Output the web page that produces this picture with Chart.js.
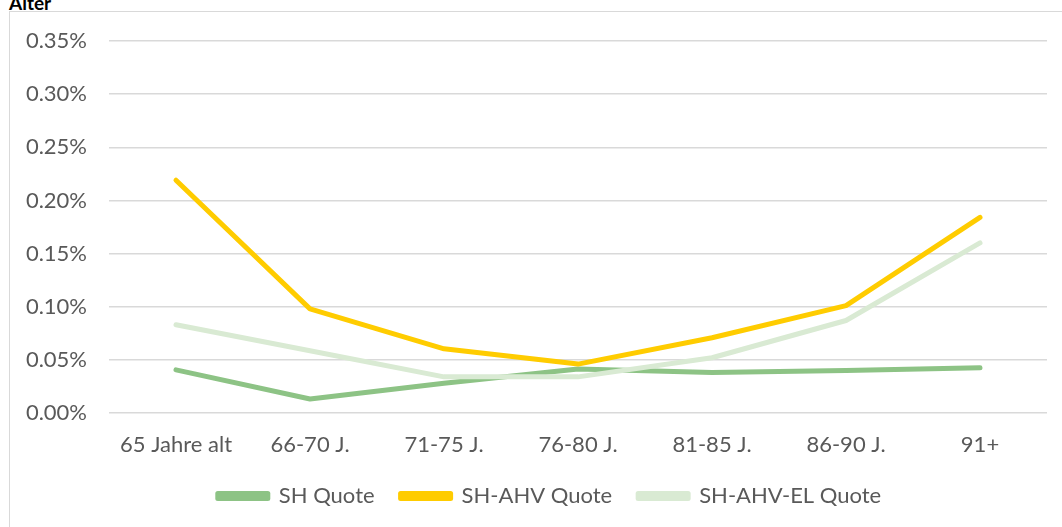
<!DOCTYPE html>
<html>
<head>
<meta charset="utf-8">
<script src="https://cdn.jsdelivr.net/npm/chart.js@4"></script>
<style>
  body { margin: 0; background: #fff; width: 1062px; height: 527px; overflow: hidden; position: relative; font-family: Lato, sans-serif; }
  #title { position: absolute; left: 9px; top: -9px; font-weight: bold; font-size: 19px; color: #000; }
  #frame { position: absolute; left: 9px; top: 11px; width: 1070px; height: 530px; border: 1px solid #d9d9d9; }
  #wrap { position: absolute; left: 10px; top: 12px; width: 1052px; height: 515px; }
</style>
</head>
<body>
<div id="title">Alter</div>
<div id="frame"></div>
<div id="wrap"><canvas id="lineChart"></canvas></div>
<script>
const categories = ["65 Jahre alt", "66-70 J.", "71-75 J.", "76-80 J.", "81-85 J.", "86-90 J.", "91+"];
const shQuote = [0.0406, 0.0132, 0.028, 0.0415, 0.038, 0.040, 0.0425];
const shAhvQuote = [0.219, 0.098, 0.0604, 0.046, 0.0708, 0.101, 0.184];
const shAhvElQuote = [0.083, 0.0585, 0.034, 0.034, 0.052, 0.087, 0.160];

const ctx = document.getElementById("lineChart").getContext("2d");

function series(label, data, color, order) {
  return {
    label: label,
    data: data,
    borderColor: color,
    backgroundColor: color,
    borderWidth: 5,
    borderCapStyle: "round",
    borderJoinStyle: "round",
    pointRadius: 0,
    tension: 0,
    fill: false,
    order: order,
  };
}

// nudge the legend a bit to the right, like the original
const legendShift = {
  id: "legendShift",
  afterLayout(chart) {
    chart.legend.left += 21;
    chart.legend.right += 21;
  },
};

const lineChart = new Chart(ctx, {
  type: "line",
  data: {
    labels: categories,
    datasets: [
      series("SH Quote", shQuote, "#8dc385", 2),
      series("SH-AHV Quote", shAhvQuote, "#ffcc00", 1),
      series("SH-AHV-EL Quote", shAhvElQuote, "#d9ead3", 0),
    ],
  },
  plugins: [legendShift],
  options: {
    responsive: true,
    maintainAspectRatio: false,
    animation: false,
    layout: { padding: { top: 29, right: 15, bottom: 10, left: 0 } },
    plugins: {
      tooltip: { enabled: false },
      legend: {
        position: "bottom",
        labels: {
          boxWidth: 50,
          boxHeight: 5,
          padding: 26,
          color: "#595959",
          font: { family: "Lato", size: 22 },
          sort: (a, b) => a.datasetIndex - b.datasetIndex,
        },
      },
    },
    scales: {
      x: {
        offset: true,
        grid: { display: false },
        border: { display: false },
        ticks: { color: "#595959", font: { family: "Lato", size: 22 }, padding: 11, maxRotation: 0 },
        afterFit: (scale) => { scale.height = 46; },
      },
      y: {
        min: 0,
        max: 0.35,
        ticks: {
          stepSize: 0.05,
          padding: 22,
          color: "#595959",
          font: { family: "Lato", size: 22 },
          callback: (v) => v.toFixed(2) + "%",
        },
        grid: { color: "#d9d9d9", lineWidth: 1.5, drawTicks: false },
        border: { display: false },
        afterFit: (scale) => {
          scale.width = 99;
          scale.paddingTop = 0;
          scale.paddingBottom = 0;
        },
      },
    },
  },
});
</script>
</body>
</html>
